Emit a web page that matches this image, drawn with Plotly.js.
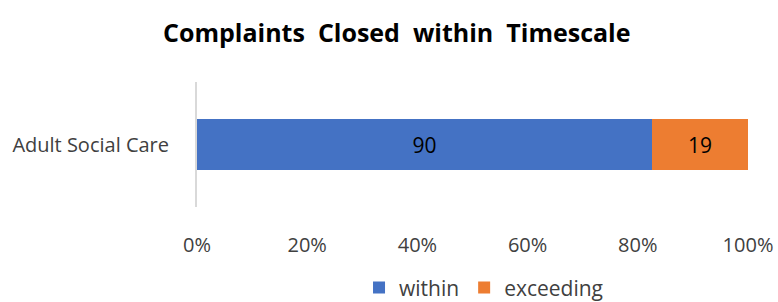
<!DOCTYPE html>
<html><head><meta charset="utf-8">
<script src="https://cdn.plot.ly/plotly-3.0.1.min.js"></script>
<style>html,body{margin:0;padding:0;background:#fff}</style>
</head><body>
<div id="chart" style="width:778px;height:302px"></div>
<script>
const categories = ["Adult Social Care"];
const within = [90];
const exceeding = [19];
const seriesNames = ["within", "exceeding"];
const tickVals = [0, 20, 40, 60, 80, 100];
const tickText = ["0%", "20%", "40%", "60%", "80%", "100%"];

const font = "Open Sans, sans-serif";
const traces = [
  {type:'bar', orientation:'h', name:seriesNames[0], y:categories, x:within,
   text:within.map(String), textposition:'inside', insidetextanchor:'middle',
   textfont:{family:font, size:21, color:'#000'}, marker:{color:'#4472C4'}, hoverinfo:'none'},
  {type:'bar', orientation:'h', name:seriesNames[1], y:categories, x:exceeding,
   text:exceeding.map(String), textposition:'inside', insidetextanchor:'middle',
   textfont:{family:font, size:21, color:'#000'}, marker:{color:'#ED7D31'}, hoverinfo:'none'}
];
const layout = {
  width:778, height:302,
  margin:{l:197, r:30, t:82, b:95},
  barmode:'stack', barnorm:'percent', bargap:0.59,
  font:{family:font, color:'#404040', size:20},
  title:{text:'<b>Complaints  Closed  within  Timescale</b>', x:0.51, xanchor:'center', y:0.89, yanchor:'middle',
         font:{family:font, size:25, color:'#000'}},
  xaxis:{range:[0,100], tickvals:tickVals, ticktext:tickText, showgrid:false, zeroline:false,
         showline:false, ticks:'', ticklabelstandoff:24, tickfont:{size:20, color:'#404040'}, fixedrange:true},
  yaxis:{showline:true, linecolor:'#d9d9d9', linewidth:2, ticks:'', ticklabelstandoff:22,
         tickfont:{size:20, color:'#404040'}, fixedrange:true},
  showlegend:true,
  legend:{orientation:'h', x:0.52, xanchor:'center', yref:'container', y:0.115, yanchor:'top',
          font:{size:21, color:'#404040'}, itemwidth:30, traceorder:'normal'},
  paper_bgcolor:'#fff', plot_bgcolor:'#fff'
};
Plotly.newPlot('chart', traces, layout, {displayModeBar:false, staticPlot:true});
</script>
</body></html>
